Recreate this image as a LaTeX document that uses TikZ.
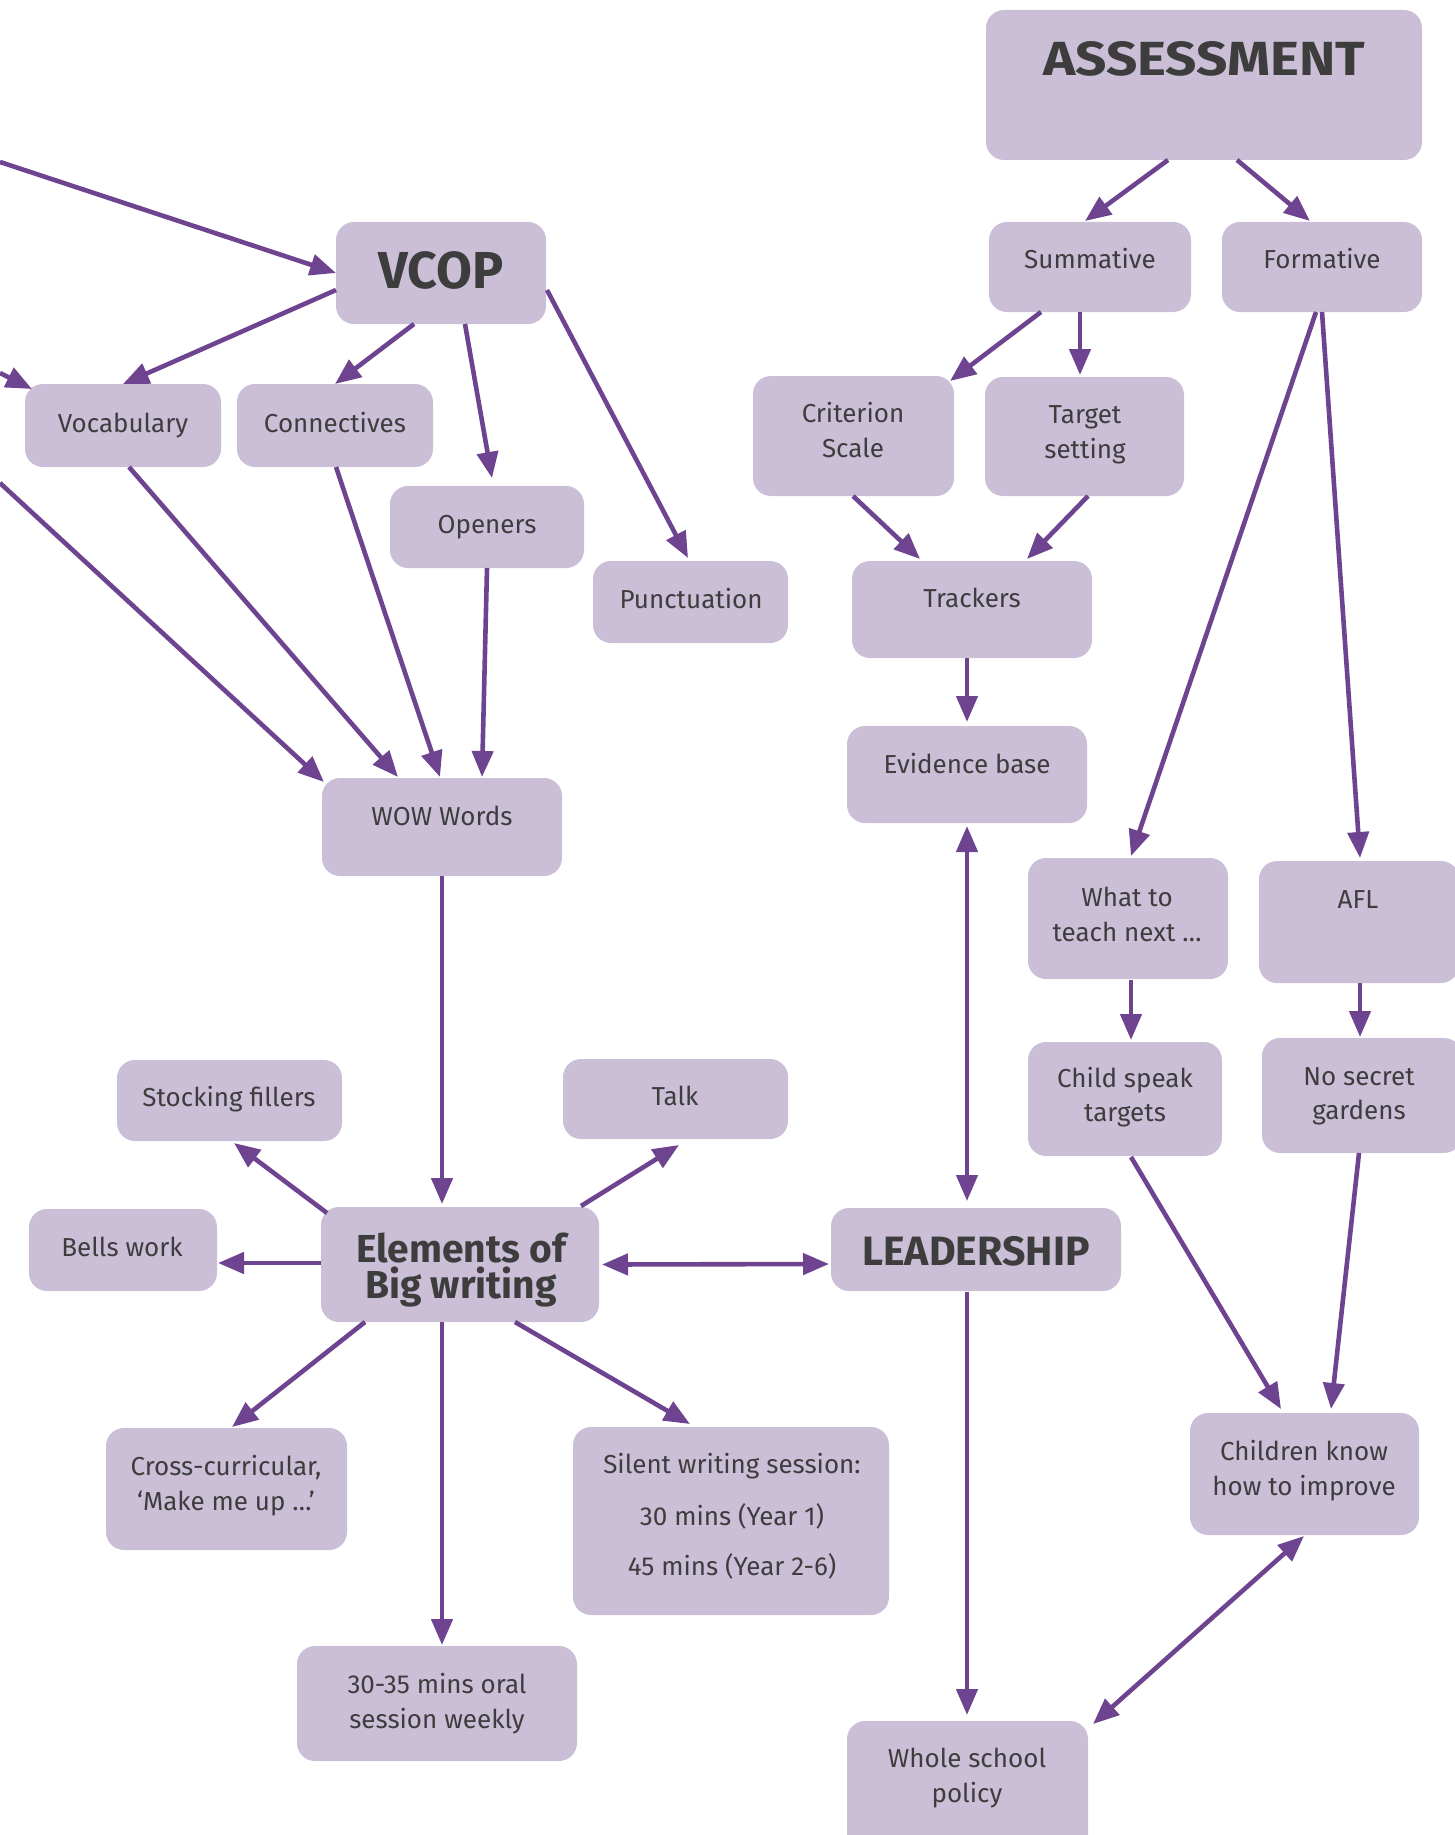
\documentclass[tikz,border=0pt]{standalone}
\usepackage{fontspec}
\setmainfont{Fira Sans}
\usepackage{graphicx}
\usetikzlibrary{calc,arrows.meta}
\definecolor{boxfill}{HTML}{CBBFD8}
\definecolor{arrowc}{HTML}{6E4390}
\definecolor{txt}{HTML}{3D3D3D}
\tikzset{
  bx/.style={fill=boxfill,draw=none,rounded corners=18pt,anchor=north west,inner sep=0pt,outer sep=0pt},
  lab/.style={anchor=base,inner sep=0pt,text=txt,font=\fontsize{26}{31}\selectfont},
  hd/.style={anchor=base,inner sep=0pt,text=txt,font=\bfseries\fontsize{#1}{#1}\selectfont},
  arr/.style={draw=arrowc,line width=4.6pt,-{Triangle[length=26pt,width=21pt]}},
  darr/.style={draw=arrowc,line width=4.6pt,{Triangle[length=26pt,width=21pt]}-{Triangle[length=26pt,width=21pt]}},
}
\newcommand\mkbox[5]{\node[bx,minimum width=#4pt,minimum height=#5pt] (#1) at (#2,#3) {};}
\begin{document}
\begin{tikzpicture}[x=1pt,y=-1pt]
\useasboundingbox (0,0) rectangle (1455,1835);
\clip (0,0) rectangle (1455,1835);
% boxes
\mkbox{ass}{986}{10}{436}{150}
\mkbox{vcop}{336}{222}{210}{102}
\mkbox{summ}{989}{222}{202}{90}
\mkbox{form}{1222}{222}{200}{90}
\mkbox{vocab}{25}{384}{196}{83}
\mkbox{conn}{237}{384}{196}{83}
\mkbox{open}{390}{486}{194}{82}
\mkbox{punct}{593}{561}{195}{82}
\mkbox{crit}{753}{376}{201}{120}
\mkbox{targ}{985}{377}{199}{119}
\mkbox{track}{852}{561}{240}{97}
\mkbox{evid}{847}{726}{240}{97}
\mkbox{wow}{322}{778}{240}{98}
\mkbox{what}{1028}{858}{200}{121}
\mkbox{afl}{1259}{861}{200}{122}
\mkbox{child}{1028}{1042}{194}{114}
\mkbox{nosec}{1262}{1038}{200}{115}
\mkbox{stock}{117}{1060}{225}{81}
\mkbox{talk}{563}{1059}{225}{80}
\mkbox{bells}{29}{1209}{188}{82}
\mkbox{elem}{321}{1207}{278}{115}
\mkbox{lead}{831}{1208}{290}{83}
\mkbox{cross}{106}{1428}{241}{122}
\mkbox{silent}{573}{1427}{316}{188}
\mkbox{oral}{297}{1646}{280}{115}
\mkbox{chknow}{1190}{1413}{229}{122}
\mkbox{whole}{847}{1721}{241}{140}
% labels
\node[hd=49] (assT) at (1204,76) {\resizebox{322pt}{34pt}{ASSESSMENT}};
\node[hd=52] (vcopT) at (441,288) {VCOP};
\node[lab] (summT) at (1090,269) {Summative};
\node[lab] (formT) at (1322,269) {Formative};
\node[lab] (vocabT) at (123,432) {Vocabulary};
\node[lab] (connT) at (335,432) {Connectives};
\node[lab] (openT) at (487,533) {Openers};
\node[lab] (punctT) at (691,608) {Punctuation};
\node[lab] (critT1) at (853,422) {Criterion};
\node[lab] (critT2) at (853,457) {Scale};
\node[lab] (targT1) at (1085,423) {Target};
\node[lab] (targT2) at (1085,458) {setting};
\node[lab] (trackT) at (972,607) {Trackers};
\node[lab] (evidT) at (967,773) {Evidence base};
\node[lab] (wowT) at (442,825) {WOW Words};
\node[lab] (whatT1) at (1127,906) {What to};
\node[lab] (whatT2) at (1127,941) {teach next …};
\node[lab] (aflT) at (1358,908) {AFL};
\node[lab] (childT1) at (1125,1087) {Child speak};
\node[lab] (childT2) at (1125,1121) {targets};
\node[lab] (nosecT1) at (1359,1085) {No secret};
\node[lab] (nosecT2) at (1359,1119) {gardens};
\node[lab] (stockT) at (229,1106) {Stocking fillers};
\node[lab] (talkT) at (675,1105) {Talk};
\node[lab] (bellsT) at (122,1256) {Bells work};
\node[anchor=base,inner sep=0pt,text=txt,font=\bfseries\fontsize{39}{36}\selectfont] (elemT) at (461,1262)
  {\begin{tabular}[t]{@{}c@{}}Elements of\\[-6pt]Big writing\end{tabular}};
\node[hd=41] (leadT) at (976,1265) {LEADERSHIP};
\node[lab] (crossT1) at (226,1475) {Cross-curricular,};
\node[lab] (crossT2) at (226,1510) {‘Make me up …’};
\node[lab] (silentT1) at (732,1473) {Silent writing session:};
\node[lab] (silentT2) at (732,1525) {30 mins (Year 1)};
\node[lab] (silentT3) at (732,1575) {45 mins (Year 2-6)};
\node[lab] (oralT1) at (437,1693) {30-35 mins oral};
\node[lab] (oralT2) at (437,1728) {session weekly};
\node[lab] (chknowT1) at (1304,1460) {Children know};
\node[lab] (chknowT2) at (1304,1495) {how to improve};
\node[lab] (wholeT1) at (967,1767) {Whole school};
\node[lab] (wholeT2) at (967,1802) {policy};
% free ends
\coordinate (inA) at (0,162);
\coordinate (inB) at (0,373);
\coordinate (inC) at (0,483);
% connectors
\draw[arr] (inA) -- (vcop.west);
\draw[arr] ($(vcop.north west)+(0,68)$) -- (vocab.north);
\draw[arr] (inB) -- ($(vocab.north west)+(7,5)$);
\draw[arr] ($(vcop.south west)+(78,0)$) -- (conn.north);
\draw[arr] ($(vcop.south west)+(129,0)$) -- ($(open.north west)+(102,-8)$);
\draw[arr] ($(vcop.north east)+(1,68)$) -- ($(punct.north west)+(95,-3)$);
\draw[arr] (inC) -- ($(wow.north west)+(2,4)$);
\draw[arr] ($(vocab.south west)+(104,0)$) -- ($(wow.north west)+(76,-1)$);
\draw[arr] ($(conn.south west)+(99,0)$) -- ($(wow.north west)+(118,-1)$);
\draw[arr] ($(open.south west)+(97,0)$) -- ($(wow.north west)+(160,-1)$);
\draw[arr] (wow.south) -- ($(elem.north west)+(121,-3)$);
\draw[arr] ($(elem.north west)+(6,6)$) -- ($(stock.south west)+(117,2)$);
\draw[arr] ($(elem.north west)+(260,-1)$) -- ($(talk.south west)+(116,6)$);
\draw[arr] ($(elem.north west)+(0,56)$) -- ($(bells.south east)+(1,-28)$);
\draw[darr] ($(elem.east)+(3,0)$) -- ($(lead.south west)+(-2,-27)$);
\draw[arr] ($(elem.south west)+(44,0)$) -- ($(cross.north west)+(126,-1)$);
\draw[arr] ($(elem.south west)+(121,0)$) -- ($(oral.north west)+(145,-1)$);
\draw[arr] ($(elem.south west)+(194,0)$) -- ($(silent.north west)+(117,-3)$);
\draw[arr] ($(ass.south west)+(182,0)$) -- ($(summ.north west)+(96,-1)$);
\draw[arr] ($(ass.south west)+(251,0)$) -- ($(form.north west)+(88,-1)$);
\draw[arr] ($(summ.south west)+(52,0)$) -- ($(crit.north west)+(197,5)$);
\draw[arr] ($(summ.south west)+(91,0)$) -- ($(targ.north west)+(95,-2)$);
\draw[arr] ($(crit.south west)+(100,0)$) -- ($(track.north west)+(68,-2)$);
\draw[arr] ($(targ.south west)+(103,0)$) -- ($(track.north west)+(175,-2)$);
\draw[arr] ($(track.south west)+(115,0)$) -- ($(evid.north west)+(120,-4)$);
\draw[darr] ($(evid.south west)+(120,3)$) -- ($(lead.north west)+(136,-7)$);
\draw[arr] ($(lead.south west)+(136,1)$) -- ($(whole.north west)+(120,-6)$);
\draw[arr] ($(form.south west)+(94,0)$) -- ($(what.north west)+(103,-2)$);
\draw[arr] ($(form.south west)+(100,0)$) -- ($(afl.north west)+(101,-3)$);
\draw[arr] ($(what.south west)+(103,1)$) -- ($(child.north west)+(103,-2)$);
\draw[arr] ($(afl.south west)+(101,0)$) -- ($(nosec.north west)+(98,-1)$);
\draw[arr] ($(child.south west)+(103,1)$) -- ($(chknow.north west)+(91,-4)$);
\draw[arr] ($(nosec.south west)+(97,0)$) -- ($(chknow.north west)+(141,-4)$);
\draw[darr] ($(chknow.south west)+(114,1)$) -- ($(whole.north west)+(246,3)$);
\end{tikzpicture}
\end{document}
